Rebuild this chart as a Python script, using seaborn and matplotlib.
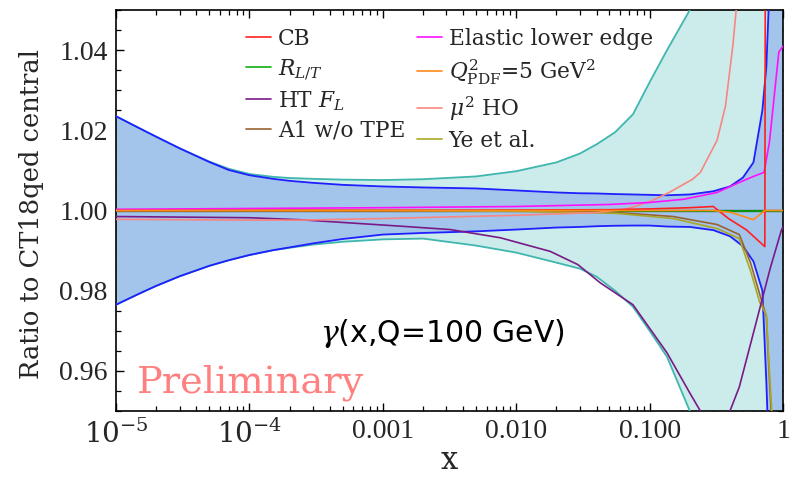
import numpy as np
import pandas as pd
import matplotlib
matplotlib.use("Agg")
import matplotlib.pyplot as plt
import seaborn as sns

# ---------------- data ----------------
band_x = [1e-5, 1.5e-5, 2e-5, 3e-5, 5e-5, 7e-5, 1e-4, 1.5e-4, 2e-4, 3e-4, 5e-4, 1e-3,
          2e-3, 5e-3, 1e-2, 2e-2, 3e-2, 4e-2, 5.5e-2, 7.5e-2, 0.1, 0.135, 0.2, 0.3,
          0.4, 0.5, 0.6, 0.7, 0.75, 0.8, 0.9, 1.0]
tot_hi = [1.0235, 1.0205, 1.0184, 1.0155, 1.0122, 1.0104, 1.0091, 1.0084, 1.0081,
          1.0079, 1.0077, 1.0076, 1.0078, 1.0085, 1.0098, 1.012, 1.0142, 1.0165,
          1.0195, 1.024, 1.032, 1.040, 1.050, 1.075, 1.10, 1.12, 1.14, 1.16, 1.17,
          1.18, 1.2, 1.2]
tot_lo = [0.9765, 0.9793, 0.9812, 0.9836, 0.9862, 0.9876, 0.9889, 0.9901, 0.9907,
          0.9915, 0.9922, 0.9928, 0.993, 0.99125, 0.9895, 0.987, 0.9855, 0.9835,
          0.980, 0.976, 0.970, 0.9635, 0.950, 0.92, 0.90, 0.88, 0.86, 0.84, 0.83,
          0.82, 0.8, 0.8]
pdf_hi = [1.0235, 1.0205, 1.0184, 1.0155, 1.0121, 1.0101, 1.0088, 1.0079, 1.0074,
          1.0069, 1.0064, 1.006, 1.00575, 1.0055, 1.005, 1.0045, 1.0043, 1.00425,
          1.0041, 1.004, 1.0039, 1.0038, 1.004, 1.0048, 1.006, 1.0082, 1.012, 1.025,
          1.036, 1.06, 1.2, 1.3]
pdf_lo = [0.9765, 0.9793, 0.9812, 0.9836, 0.9862, 0.9876, 0.9889, 0.9901, 0.9908,
          0.9918, 0.9929, 0.9940, 0.9944, 0.9948, 0.99525, 0.99575, 0.9959, 0.99608,
          0.9962, 0.99625, 0.99625, 0.996, 0.9959, 0.9951, 0.99358, 0.9911, 0.9873,
          0.9800, 0.957, 0.93, 0.8, 0.7]

ref_x = [1e-5, 1.0]
ref_y = [1.0, 1.0]

cb_x = [1e-5, 1e-3, 0.05, 0.1, 0.2, 0.3, 0.39, 0.53, 0.73, 0.75]
cb_y = [1.0, 1.0, 1.0002, 1.0004, 1.0007, 1.001, 0.998, 0.9952, 0.991, 1.2]

rlt_x = [1e-5, 1.0]
rlt_y = [1.0, 1.0]

ht_x = [1e-5, 1e-4, 2.4e-4, 5.7e-4, 1.35e-3, 3.2e-3, 7.6e-3, 0.018, 0.029, 0.0425,
        0.075, 0.135, 0.2, 0.24, 0.3, 0.4, 0.47, 0.6, 0.8, 0.97, 1.0]
ht_y = [0.9985, 0.9982, 0.9977, 0.9969, 0.9961, 0.99525, 0.9932, 0.9898, 0.9865,
        0.982, 0.9765, 0.9645, 0.9545, 0.95, 0.943, 0.95, 0.956, 0.9695, 0.9855,
        0.995, 0.996]

a1_x = [1e-5, 1e-3, 1e-2, 0.056, 0.15, 0.32, 0.47, 0.57, 0.67, 0.75, 0.79, 0.83, 0.9]
a1_y = [1.0, 1.0, 0.9999, 0.9995, 0.9985, 0.9965, 0.994, 0.987, 0.979, 0.9735, 0.958,
        0.945, 0.92]

el_x = [1e-5, 1e-4, 1e-3, 1e-2, 0.05, 0.1, 0.18, 0.32, 0.47, 0.6, 0.72, 0.79, 0.93, 1.0]
el_y = [1.0003, 1.0005, 1.0007, 1.001, 1.0015, 1.002, 1.0028, 1.0045, 1.007, 1.0085,
        1.0095, 1.017, 1.0395, 1.041]

q2_x = [1e-5, 0.1, 0.3, 0.41, 0.6, 0.73, 1.0]
q2_y = [1.0, 1.0, 1.0, 0.9995, 0.9977, 1.0, 1.0]

mu_x = [1e-5, 1e-4, 2.4e-4, 1e-3, 1e-2, 0.04, 0.066, 0.1, 0.14, 0.21, 0.24, 0.32,
        0.37, 0.42, 0.46]
mu_y = [0.9978, 0.9976, 0.9976, 0.998, 0.9988, 0.9995, 1.0003, 1.0022, 1.0045, 1.0078,
        1.0095, 1.0175, 1.026, 1.041, 1.055]

ye_x = [1e-5, 1e-3, 1e-2, 0.056, 0.15, 0.32, 0.47, 0.57, 0.67, 0.75, 0.79, 0.83, 0.9]
ye_y = [1.0, 1.0, 0.9998, 0.9993, 0.998, 0.9955, 0.993, 0.985, 0.977, 0.974, 0.960,
        0.948, 0.92]

xtick_vals = [1e-5, 1e-4, 1e-3, 1e-2, 1e-1, 1.0]
xtick_labels = [r"$10^{-5}$", r"$10^{-4}$", "0.001", "0.010", "0.100", "1"]
ytick_vals = [0.96, 0.98, 1.00, 1.02, 1.04]
ytick_labels = ["0.96", "0.98", "1.00", "1.02", "1.04"]

# ---------------- style ----------------
sns.set_style("ticks")
plt.rcParams["font.family"] = ["DejaVu Serif"]
plt.rcParams["mathtext.fontset"] = "dejavuserif"

fig = plt.figure(figsize=(7.92, 4.90), dpi=100)
ax = fig.add_axes([0.1465, 0.1612, 0.8422, 0.8184])

# bands
ax.fill_between(band_x, tot_lo, tot_hi, color="#cbeceb", lw=0, zorder=1)
ax.fill_between(band_x, pdf_lo, pdf_hi, color="#a3c5eb", lw=0, zorder=2)
for yy in (tot_hi, tot_lo):
    sns.lineplot(x=band_x, y=yy, ax=ax, color="#3fb6ae", lw=1.3, estimator=None,
                 sort=False, zorder=3)
for yy in (pdf_hi, pdf_lo):
    sns.lineplot(x=band_x, y=yy, ax=ax, color="#1f1fff", lw=1.3, estimator=None,
                 sort=False, zorder=4)

sns.lineplot(x=ref_x, y=ref_y, ax=ax, color="black", lw=1.6, estimator=None,
             sort=False, zorder=5)

lw = 1.2
curves = [
    (rlt_x, rlt_y, "#10b010", r"$R_{L/T}$", 6),
    (a1_x, a1_y, "#9a6232", "A1 w/o TPE", 6),
    (ye_x, ye_y, "#a8a828", "Ye et al.", 6),
    (ht_x, ht_y, "#7a1a86", r"HT $F_L$", 6),
    (mu_x, mu_y, "#f88682", r"$\mu^2$ HO", 6),
    (el_x, el_y, "#ff10ff", "Elastic lower edge", 6),
    (cb_x, cb_y, "#ff2020", "CB", 7),
    (q2_x, q2_y, "#ff8a1a", r"$Q^2_{\mathrm{PDF}}$=5 GeV$^2$", 7),
]
for xs, ys, c, lab, z in curves:
    sns.lineplot(x=xs, y=ys, ax=ax, color=c, lw=lw, estimator=None, sort=False,
                 zorder=z, label=lab)

h, l = ax.get_legend_handles_labels()
hmap = dict(zip(l, h))
order = ["CB", r"$R_{L/T}$", r"HT $F_L$", "A1 w/o TPE", "Elastic lower edge",
         r"$Q^2_{\mathrm{PDF}}$=5 GeV$^2$", r"$\mu^2$ HO", "Ye et al."]
leg = ax.legend([hmap[k] for k in order], order, ncol=2, loc="upper left",
                bbox_to_anchor=(0.195, 0.955), frameon=False, fontsize=15.7,
                handlelength=1.15, handletextpad=0.3, columnspacing=0.55,
                labelspacing=0.33, borderpad=0, borderaxespad=0)

# axes
ax.set_xscale("log")
ax.set_xlim(1e-5, 1.0)
ax.set_ylim(0.95, 1.05)
ax.set_xticks(xtick_vals)
ax.set_xticklabels(xtick_labels)
ax.set_yticks(ytick_vals)
ax.set_yticklabels(ytick_labels)
ax.yaxis.set_minor_locator(matplotlib.ticker.MultipleLocator(0.005))
ax.xaxis.set_minor_locator(matplotlib.ticker.LogLocator(base=10, subs=np.arange(2, 10)))
ax.xaxis.set_minor_formatter(matplotlib.ticker.NullFormatter())
ax.tick_params(which="both", direction="in", top=True, right=True, color="black")
ax.tick_params(which="major", length=6, width=1.0, labelsize=20, pad=6)
ax.tick_params(which="minor", length=3.5, width=0.9)
for lab in ax.get_xticklabels() + ax.get_yticklabels():
    lab.set_family(["Liberation Serif", "DejaVu Serif"])
for s in ax.spines.values():
    s.set_color("black")
    s.set_linewidth(1.2)

ax.set_ylabel("Ratio to CT18qed central", fontsize=18.5)
ax.yaxis.set_label_coords(-0.108, 0.49)
ax.set_xlabel("x", fontsize=22)
ax.xaxis.set_label_coords(0.5, -0.085)

ax.text(0.306, 0.173, r"$\gamma$(x,Q=100 GeV)", transform=ax.transAxes,
        fontsize=21.5, family=["DejaVu Sans"], color="black", ha="left", va="baseline")
ax.text(0.031, 0.045, "Preliminary", transform=ax.transAxes, fontsize=27.5,
        color="#ff8080", ha="left", va="baseline")

fig.savefig("out.png", dpi=100)
